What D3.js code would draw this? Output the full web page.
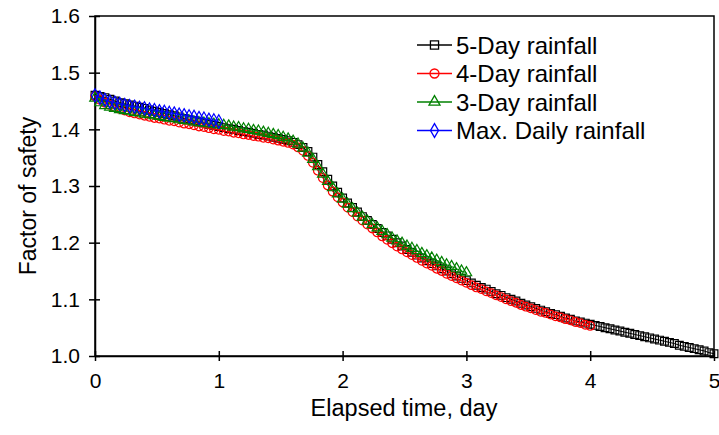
<!DOCTYPE html>
<html>
<head>
<meta charset="utf-8">
<script src="https://cdn.jsdelivr.net/npm/d3@7"></script>
<style>
  body { margin: 0; background: #fff; }
  text { font-family: "Liberation Sans", Arial, sans-serif; fill: #000; }
</style>
</head>
<body>
<svg id="chart"></svg>
<script>
// sampling interval of the model output, days
const dt = 0.04;

// factor of safety, one value every dt days
const fs5day = [
  1.460, 1.458, 1.456, 1.453, 1.450, 1.447, 1.445, 1.443, 1.441, 1.439,
  1.437, 1.434, 1.432, 1.430, 1.428, 1.426, 1.424, 1.422, 1.419, 1.417,
  1.415, 1.413, 1.411, 1.409, 1.407, 1.405, 1.403, 1.401, 1.400, 1.398,
  1.396, 1.395, 1.393, 1.391, 1.390, 1.388, 1.386, 1.384, 1.382, 1.380,
  1.377, 1.373, 1.368, 1.361, 1.351, 1.338, 1.325, 1.312, 1.300, 1.289,
  1.279, 1.270, 1.262, 1.254, 1.246, 1.239, 1.232, 1.225, 1.218, 1.212,
  1.206, 1.200, 1.194, 1.188, 1.183, 1.178, 1.173, 1.168, 1.163, 1.159,
  1.154, 1.150, 1.145, 1.141, 1.137, 1.133, 1.129, 1.125, 1.121, 1.118,
  1.114, 1.110, 1.107, 1.103, 1.100, 1.097, 1.093, 1.090, 1.087, 1.084,
  1.081, 1.078, 1.075, 1.073, 1.070, 1.067, 1.065, 1.062, 1.060, 1.058,
  1.056, 1.054, 1.052, 1.050, 1.048, 1.046, 1.044, 1.042, 1.040, 1.038,
  1.036, 1.034, 1.032, 1.030, 1.028, 1.026, 1.024, 1.022, 1.019, 1.017,
  1.015, 1.013, 1.011, 1.009, 1.006, 1.004
];

const fs4day = [
  1.458, 1.452, 1.447, 1.443, 1.439, 1.436, 1.433, 1.430, 1.428, 1.426,
  1.424, 1.422, 1.420, 1.419, 1.417, 1.415, 1.414, 1.412, 1.410, 1.409,
  1.407, 1.405, 1.404, 1.402, 1.400, 1.399, 1.397, 1.396, 1.394, 1.393,
  1.391, 1.390, 1.388, 1.387, 1.385, 1.384, 1.382, 1.380, 1.378, 1.376,
  1.373, 1.368, 1.362, 1.353, 1.341, 1.327, 1.314, 1.301, 1.290, 1.280,
  1.271, 1.262, 1.254, 1.246, 1.239, 1.232, 1.225, 1.218, 1.211, 1.205,
  1.199, 1.193, 1.188, 1.183, 1.178, 1.173, 1.168, 1.163, 1.159, 1.154,
  1.150, 1.145, 1.141, 1.137, 1.133, 1.129, 1.125, 1.121, 1.118, 1.114,
  1.111, 1.107, 1.104, 1.100, 1.097, 1.094, 1.090, 1.087, 1.084, 1.081,
  1.078, 1.076, 1.073, 1.070, 1.068, 1.065, 1.063, 1.060, 1.058, 1.055,
  1.053
];

const fs3day = [
  1.455, 1.447, 1.442, 1.439, 1.437, 1.435, 1.433, 1.432, 1.430, 1.429,
  1.427, 1.426, 1.424, 1.423, 1.421, 1.420, 1.419, 1.417, 1.416, 1.415,
  1.413, 1.412, 1.411, 1.410, 1.409, 1.408, 1.407, 1.406, 1.404, 1.403,
  1.401, 1.400, 1.398, 1.397, 1.395, 1.393, 1.391, 1.389, 1.386, 1.383,
  1.379, 1.374, 1.367, 1.358, 1.347, 1.334, 1.321, 1.308, 1.297, 1.286,
  1.277, 1.268, 1.260, 1.252, 1.245, 1.238, 1.232, 1.226, 1.220, 1.214,
  1.208, 1.203, 1.199, 1.194, 1.190, 1.186, 1.181, 1.177, 1.173, 1.169,
  1.165, 1.161, 1.158, 1.154, 1.150, 1.147
];

const fsMaxDaily = [
  1.460, 1.456, 1.452, 1.449, 1.447, 1.445, 1.443, 1.441, 1.440, 1.438,
  1.437, 1.435, 1.434, 1.432, 1.431, 1.429, 1.428, 1.426, 1.425, 1.423,
  1.422, 1.420, 1.419, 1.417, 1.416, 1.414
];

const seriesNames = ["5-Day rainfall", "4-Day rainfall", "3-Day rainfall", "Max. Daily rainfall"];
const seriesValues = [fs5day, fs4day, fs3day, fsMaxDaily];
const seriesColors = ["#000000", "#ff0000", "#008000", "#0000ff"];
const seriesSymbols = [d3.symbolSquare, d3.symbolCircle, d3.symbolTriangle, d3.symbolDiamond];
const symbolSizes = [60, 58, 48, 50];

const xTicks = [0, 1, 2, 3, 4, 5];
const yTicks = [1.0, 1.1, 1.2, 1.3, 1.4, 1.5, 1.6];

const width = 719, height = 435;
const margin = { top: 16, right: 5, bottom: 79, left: 95 };

const svg = d3.select("#chart")
    .attr("width", width)
    .attr("height", height);

const x = d3.scaleLinear().domain([0, 5]).range([margin.left, width - margin.right]);
const y = d3.scaleLinear().domain([1.0, 1.6]).range([height - margin.bottom, margin.top]);

// frame
svg.append("rect")
    .attr("x", x(0))
    .attr("y", y(1.6))
    .attr("width", x(5) - x(0))
    .attr("height", y(1.0) - y(1.6))
    .attr("fill", "none")
    .attr("stroke", "#000")
    .attr("stroke-width", 1.5);

// axes: ticks cross the axis line
const xAxis = svg.append("g")
    .attr("transform", `translate(0,${y(1.0)})`)
    .call(d3.axisBottom(x).tickValues(xTicks).tickFormat(d3.format("d")).tickSize(0).tickPadding(17));
xAxis.selectAll(".tick").append("line")
    .attr("y1", -5).attr("y2", 5).attr("stroke", "#000").attr("stroke-width", 1.5);

const yAxis = svg.append("g")
    .attr("transform", `translate(${x(0)},0)`)
    .call(d3.axisLeft(y).tickValues(yTicks).tickFormat(d3.format(".1f")).tickSize(0).tickPadding(15));
yAxis.selectAll(".tick").append("line")
    .attr("x1", -6).attr("x2", 5).attr("stroke", "#000").attr("stroke-width", 1.5);

svg.selectAll(".domain").attr("stroke", "#000").attr("stroke-width", 1.5);
svg.selectAll(".tick text")
    .style("font-family", "'Liberation Sans', Arial, sans-serif")
    .style("font-size", "21px")
    .attr("fill", "#000");

// axis titles
svg.append("text")
    .attr("x", 404)
    .attr("y", 416)
    .attr("text-anchor", "middle")
    .style("font-size", "23.5px")
    .text("Elapsed time, day");

svg.append("text")
    .attr("transform", `translate(36,196) rotate(-90)`)
    .attr("text-anchor", "middle")
    .style("font-size", "23px")
    .text("Factor of safety");

// series
const line = d3.line()
    .x((d, i) => x(i * dt))
    .y(d => y(d));

seriesValues.forEach((vals, k) => {
    const g = svg.append("g");
    g.append("path")
        .datum(vals)
        .attr("d", line)
        .attr("fill", "none")
        .attr("stroke", seriesColors[k])
        .attr("stroke-width", 1);
    g.selectAll("path.m")
        .data(vals)
        .enter().append("path")
        .attr("class", "m")
        .attr("transform", (d, i) => `translate(${x(i * dt)},${y(d)})`)
        .attr("d", d3.symbol().type(seriesSymbols[k]).size(symbolSizes[k]))
        .attr("fill", "none")
        .attr("stroke", seriesColors[k])
        .attr("stroke-width", 1.2);
});

// legend
const legend = svg.append("g");
seriesNames.forEach((name, k) => {
    const ly = 45 + k * 28.5;
    legend.append("line")
        .attr("x1", 417).attr("x2", 452)
        .attr("y1", ly).attr("y2", ly)
        .attr("stroke", seriesColors[k])
        .attr("stroke-width", 1.3);
    legend.append("path")
        .attr("transform", `translate(434.5,${ly})`)
        .attr("d", d3.symbol().type(seriesSymbols[k]).size(symbolSizes[k] * 1.1))
        .attr("fill", "none")
        .attr("stroke", seriesColors[k])
        .attr("stroke-width", 1.3);
    legend.append("text")
        .attr("x", 456)
        .attr("y", ly)
        .attr("dy", "0.36em")
        .style("font-size", "24px")
        .text(name);
});
</script>
</body>
</html>
